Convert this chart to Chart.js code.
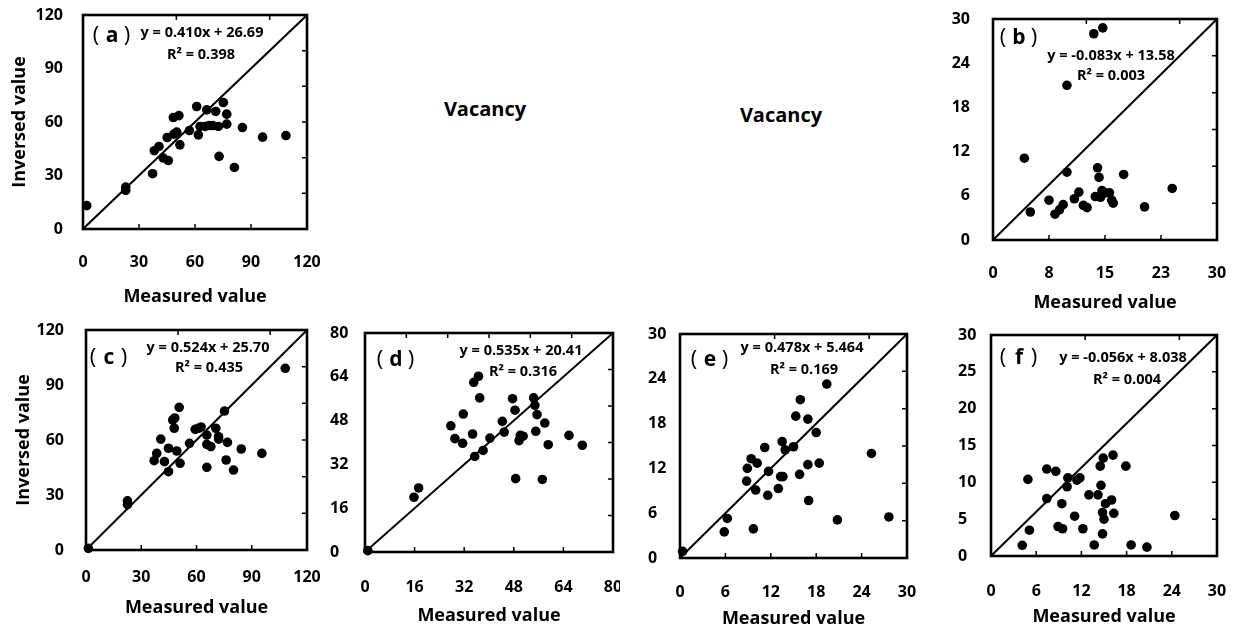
<!DOCTYPE html>
<html>
<head>
<meta charset="utf-8">
<script src="https://cdn.jsdelivr.net/npm/chart.js@4.4.0/dist/chart.umd.min.js"></script>
<style>
  html, body { margin: 0; padding: 0; background: #fff; }
  #page { position: relative; width: 1245px; height: 631px; overflow: hidden; font-family: 'Open Sans', sans-serif; }
  .panel { position: absolute; }
  .vacancy { position: absolute; font-weight: bold; font-size: 20px; color: #000; transform: translate(-50%, -50%); white-space: nowrap; }
</style>
</head>
<body>
<div id="page">
  <div class="vacancy" style="left:485px;top:108px">Vacancy</div>
  <div class="vacancy" style="left:781px;top:114px">Vacancy</div>
</div>
<script>
// measured (x) vs inversed (y) values for each panel
const aMeasured = [2, 22.9, 22.9, 37.3, 38.2, 40.7, 43, 45.7, 45.1, 48.4, 51.4, 48.7, 50.2, 51.9, 57, 60.9, 61.8, 62.7, 65.4, 67.5, 69.5, 66.3, 71.1, 72.5, 75.2, 77, 77, 72.9, 81.1, 85.4, 96.2, 108.7];
const aInversed = [13.1, 23.5, 21.6, 31, 43.9, 46.3, 39.8, 38.4, 51.3, 62.5, 63.6, 53.2, 54.3, 47.2, 55.2, 68.7, 52.8, 57.5, 57.5, 58, 58, 66.8, 65.9, 57.5, 70.9, 64.4, 58.8, 40.7, 34.5, 56.9, 51.5, 52.4];

const bMeasured = [14.7, 13.5, 9.9, 4.2, 5.0, 7.5, 8.3, 8.9, 9.4, 9.9, 10.9, 11.5, 12.1, 12.6, 13.7, 14.0, 14.2, 14.4, 14.6, 15.0, 15.6, 15.9, 16.1, 17.5, 20.3, 24.0];
const bInversed = [28.8, 28.0, 21.0, 11.1, 3.8, 5.4, 3.5, 4.1, 4.8, 9.2, 5.6, 6.5, 4.7, 4.4, 5.9, 9.8, 8.5, 5.8, 6.7, 6.4, 6.4, 5.4, 5.0, 8.9, 4.5, 7.0];

const cMeasured = [1.3, 22.5, 22.5, 37, 38.4, 40.6, 42.6, 44.8, 44.8, 47.1, 48.2, 47.9, 49.3, 50.6, 51.1, 56.2, 59.3, 61.1, 62.5, 65.6, 65.6, 65.6, 67.8, 70.5, 72, 72, 75.2, 76.1, 76.8, 80.1, 84.3, 95.5, 108.2];
const cInversed = [0.9, 26.8, 24.8, 48.7, 52.7, 60.5, 48.2, 55.5, 42.7, 70.9, 72, 66.4, 54, 77.8, 47.3, 58.2, 65.8, 66.4, 67.1, 45.1, 62.7, 57.6, 56.4, 66.4, 61.8, 60.5, 75.8, 49.1, 58.7, 43.6, 55.1, 52.7, 99.1];

const dMeasured = [0.9, 15.8, 17.3, 27.7, 29, 31.7, 31.5, 34.7, 35.1, 36.6, 35.4, 37, 38.1, 40.3, 44.3, 44.9, 47.6, 48.4, 48.6, 49.7, 50.1, 51, 54.4, 54.8, 55.1, 55.5, 57.2, 58, 59.1, 65.8, 70.1];
const dInversed = [0.5, 20, 23.4, 46.1, 41.4, 50.4, 39.7, 43.1, 62, 64.2, 34.9, 56.3, 37.1, 41.6, 47.7, 43.8, 56, 51.8, 26.8, 40.7, 42.6, 42.3, 56.3, 53.6, 44.1, 50.2, 26.5, 47.1, 39.2, 42.6, 39];

const eMeasured = [0.35, 5.85, 6.25, 8.8, 8.9, 9.4, 9.7, 10.0, 10.2, 11.2, 11.6, 11.7, 13.0, 13.3, 13.6, 13.5, 13.9, 15.0, 15.3, 15.8, 15.9, 16.9, 16.9, 17.0, 18.0, 18.4, 19.4, 20.8, 25.3, 27.6];
const eInversed = [0.9, 3.5, 5.3, 10.3, 12.0, 13.3, 3.9, 9.1, 12.7, 14.8, 8.4, 11.6, 9.3, 10.9, 10.9, 15.6, 14.5, 14.9, 19.0, 11.2, 21.2, 12.5, 18.6, 7.7, 16.8, 12.7, 23.3, 5.1, 14.0, 5.5];

const fMeasured = [4.15, 4.9, 5.1, 7.4, 7.4, 8.6, 8.9, 9.5, 9.4, 10.1, 10.2, 11.1, 11.4, 11.8, 12.2, 13.0, 13.7, 14.2, 14.5, 14.6, 14.8, 14.8, 14.9, 15.0, 15.2, 16.0, 16.2, 16.3, 17.9, 18.6, 20.7, 24.4];
const fInversed = [1.45, 10.4, 3.5, 11.8, 7.8, 11.5, 4.0, 3.7, 7.1, 9.4, 10.6, 5.4, 10.3, 10.6, 3.7, 8.3, 1.5, 8.3, 12.2, 9.6, 5.9, 3.0, 13.3, 5.0, 7.1, 7.6, 13.7, 5.8, 12.2, 1.5, 1.2, 5.5];

// axis ticks and labels
const ticks120 = [0, 30, 60, 90, 120];
const labels120 = ['0', '30', '60', '90', '120'];
const ticks80 = [0, 16, 32, 48, 64, 80];
const labels80 = ['0', '16', '32', '48', '64', '80'];
const ticks30by6 = [0, 6, 12, 18, 24, 30];
const labels30by6 = ['0', '6', '12', '18', '24', '30'];
const ticks30by5 = [0, 5, 10, 15, 20, 25, 30];
const labels30by5 = ['0', '5', '10', '15', '20', '25', '30'];
const bXTicks = [0, 7.5, 15, 22.5, 30];
const bXLabels = ['0', '8', '15', '23', '30'];

// secondary (inner) tick marks on top and right edges
const top120 = [50, 100];
const right120 = [20, 40, 60, 80, 100];
const side80 = [13.33, 26.67, 40, 53.33, 66.67];
const top30 = [12.5, 25];
const right30 = [5, 10, 15, 20, 25];

// 1:1 reference line
const line120 = [0, 120];
const line80 = [0, 80];
const line30 = [0, 30];

// panel tags and fitted equations
const panelLetters = ['a', 'b', 'c', 'd', 'e', 'f'];
const equations = ['y = 0.410x + 26.69', 'y = -0.083x + 13.58', 'y = 0.524x + 25.70', 'y = 0.535x + 20.41', 'y = 0.478x + 5.464', 'y = -0.056x + 8.038'];
const rSquared = ['R² = 0.398', 'R² = 0.003', 'R² = 0.435', 'R² = 0.316', 'R² = 0.169', 'R² = 0.004'];

const FONT = "'Open Sans', sans-serif";
Chart.defaults.font.family = FONT;
Chart.defaults.color = '#000';

const panels = [
  { xs: aMeasured, ys: aInversed, line: line120, xTicks: ticks120, xLabels: labels120, yTicks: ticks120, yLabels: labels120,
    top: top120, right: right120, box: [0, 0, 320, 315], area: [83, 307, 15, 229], yTickPad: 20, xLabelY: 262, xTitleY: 297, yTitleX: 20,
    text: [[112, 36], [202, 33], [201, 55]] },
  { xs: bMeasured, ys: bInversed, line: line30, xTicks: bXTicks, xLabels: bXLabels, yTicks: ticks30by6, yLabels: labels30by6,
    top: top30, right: right30, box: [930, 0, 315, 315], area: [993, 1217, 19, 240], yTickPad: 23, xLabelY: 273, xTitleY: 303,
    text: [[89, 38], [181, 56], [181, 76]] },
  { xs: cMeasured, ys: cInversed, line: line120, xTicks: ticks120, xLabels: labels120, yTicks: ticks120, yLabels: labels120,
    top: top120, right: right120, box: [0, 315, 320, 316], area: [86, 307, 330, 550], yTickPad: 22, xLabelY: 577, xTitleY: 608, yTitleX: 24,
    text: [[109, 43], [208, 33], [209, 53]] },
  { xs: dMeasured, ys: dInversed, line: line80, xTicks: ticks80, xLabels: labels80, yTicks: ticks80, yLabels: labels80,
    top: side80, right: side80, box: [320, 315, 300, 316], area: [365, 613, 333, 552], padLeft: 10, xLabelY: 587, xTitleY: 616,
    text: [[76, 45], [201, 36], [203, 57]] },
  { xs: eMeasured, ys: eInversed, line: line30, xTicks: ticks30by6, xLabels: labels30by6, yTicks: ticks30by6, yLabels: labels30by6,
    top: top30, right: right30, box: [620, 315, 310, 316], area: [680, 907, 334, 558], padLeft: 28, xLabelY: 592, xTitleY: 619,
    text: [[90, 45], [182, 33], [184, 55]] },
  { xs: fMeasured, ys: fInversed, line: line30, xTicks: ticks30by6, xLabels: labels30by6, yTicks: ticks30by5, yLabels: labels30by5,
    top: top30, right: right30, box: [930, 315, 315, 316], area: [991, 1217, 335, 556], padLeft: 28, xLabelY: 591, xTitleY: 617,
    text: [[89, 43], [193, 43], [197, 65]] }
];

const TICK_SIZE = 16, TITLE_SIZE = 18;

// drop the extra room Chart.js reserves for the end labels
function noLabelPadding(s) {
  s.paddingTop = 0; s.paddingBottom = 0; s.paddingLeft = 0; s.paddingRight = 0;
}

function makePanel(p, i) {
  const [bx, by, bw, bh] = p.box;
  const [al, ar, at, ab] = p.area;
  const padLeft = p.padLeft || 0;

  const div = document.createElement('div');
  div.className = 'panel';
  div.style.left = bx + 'px';
  div.style.top = by + 'px';
  const canvas = document.createElement('canvas');
  canvas.width = bw;
  canvas.height = bh;
  canvas.style.width = bw + 'px';
  canvas.style.height = bh + 'px';
  div.appendChild(canvas);
  document.getElementById('page').appendChild(div);

  const frame = {
    id: 'frame',
    beforeDatasetsDraw(chart) {
      const { ctx, chartArea: a, scales: { x, y } } = chart;
      ctx.save();
      ctx.strokeStyle = '#000';
      ctx.lineWidth = 1.5;
      ctx.beginPath();
      p.xTicks.slice(1, -1).forEach(v => {
        const px = x.getPixelForValue(v);
        ctx.moveTo(px, a.bottom); ctx.lineTo(px, a.bottom - 5);
      });
      p.top.forEach(v => {
        const px = x.getPixelForValue(v);
        ctx.moveTo(px, a.top); ctx.lineTo(px, a.top + 5);
      });
      p.right.forEach(v => {
        const py = y.getPixelForValue(v);
        ctx.moveTo(a.right, py); ctx.lineTo(a.right - 5, py);
      });
      ctx.stroke();
      ctx.lineWidth = 2.6;
      ctx.strokeRect(a.left, a.top, a.right - a.left, a.bottom - a.top);
      ctx.restore();
    },
    afterDraw(chart) {
      const ctx = chart.ctx;
      const [lx, ly] = p.text[0];
      ctx.save();
      ctx.fillStyle = '#000';
      ctx.textAlign = 'center';
      ctx.textBaseline = 'middle';
      // "（a）" style tag: plain parentheses around a bold letter
      ctx.font = '22px ' + FONT;
      ctx.fillText('(', lx - 16, ly);
      ctx.fillText(')', lx + 15, ly);
      ctx.font = 'bold 21px ' + FONT;
      ctx.fillText(panelLetters[i], lx, ly);
      ctx.font = 'bold 14.5px ' + FONT;
      ctx.fillText(equations[i], p.text[1][0], p.text[1][1]);
      ctx.fillText(rSquared[i], p.text[2][0], p.text[2][1]);
      ctx.restore();
    }
  };

  new Chart(canvas, {
    type: 'scatter',
    data: {
      datasets: [
        {
          data: p.xs.map((v, k) => ({ x: v, y: p.ys[k] })),
          backgroundColor: '#000',
          borderColor: '#000',
          pointRadius: 4.8,
          pointBorderWidth: 0,
          clip: false
        },
        {
          type: 'line',
          data: p.line.map(v => ({ x: v, y: v })),
          borderColor: '#000',
          borderWidth: 2,
          pointRadius: 0,
          fill: false
        }
      ]
    },
    options: {
      responsive: false,
      animation: false,
      events: [],
      layout: { padding: { left: padLeft, top: at - by, right: bx + bw - ar, bottom: 0 } },
      plugins: { legend: { display: false }, tooltip: { enabled: false } },
      scales: {
        x: {
          type: 'linear',
          min: p.xTicks[0],
          max: p.xTicks[p.xTicks.length - 1],
          grid: { display: false, drawTicks: false },
          border: { display: false },
          afterBuildTicks: s => { s.ticks = p.xTicks.map(v => ({ value: v })); },
          afterFit: s => { s.height = by + bh - ab; noLabelPadding(s); },
          ticks: {
            autoSkip: false, maxRotation: 0,
            padding: p.xLabelY - ab - TICK_SIZE * 0.6,
            font: { size: TICK_SIZE, weight: 'bold' },
            callback: (v, k) => p.xLabels[k]
          },
          title: {
            display: true,
            text: 'Measured value',
            font: { size: TITLE_SIZE, weight: 'bold' },
            padding: { top: 0, bottom: by + bh - p.xTitleY - TITLE_SIZE * 0.6 }
          }
        },
        y: {
          type: 'linear',
          min: p.yTicks[0],
          max: p.yTicks[p.yTicks.length - 1],
          grid: { display: false, drawTicks: false },
          border: { display: false },
          afterBuildTicks: s => { s.ticks = p.yTicks.map(v => ({ value: v })); },
          afterFit: s => { s.width = al - bx - padLeft; noLabelPadding(s); },
          ticks: {
            autoSkip: false,
            padding: p.yTickPad || 0,
            crossAlign: p.padLeft !== undefined ? 'far' : 'near',
            font: { size: TICK_SIZE, weight: 'bold' },
            callback: (v, k) => p.yLabels[k]
          },
          title: {
            display: p.yTitleX !== undefined,
            text: 'Inversed value',
            font: { size: TITLE_SIZE, weight: 'bold' },
            padding: { top: (p.yTitleX || 0) - TITLE_SIZE * 0.6, bottom: 0 }
          }
        }
      }
    },
    plugins: [frame]
  });
}

panels.forEach(makePanel);
</script>
</body>
</html>
